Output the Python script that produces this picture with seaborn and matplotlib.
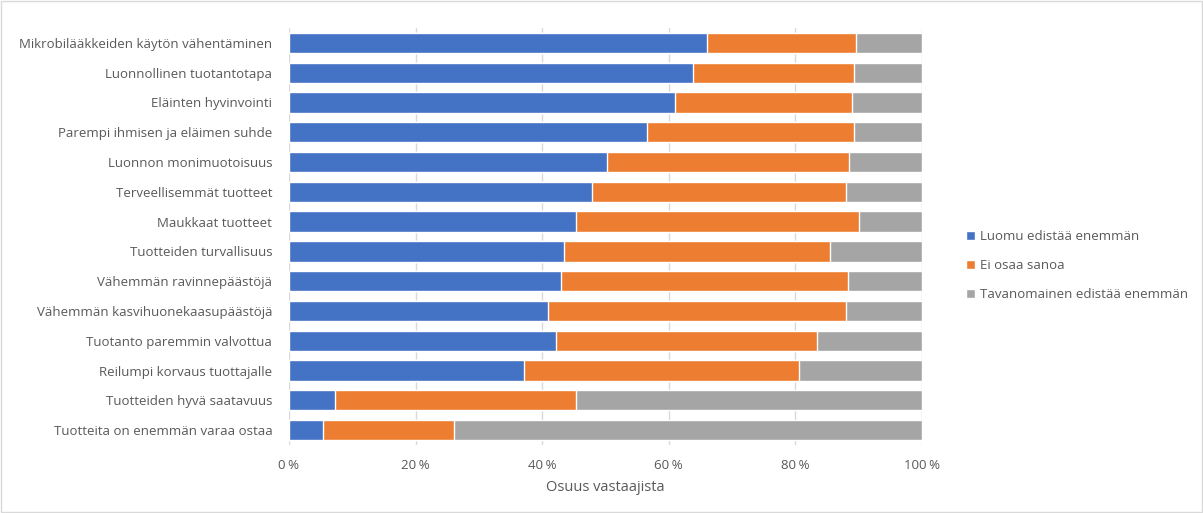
import pandas as pd
import matplotlib
matplotlib.use('Agg')
import matplotlib.pyplot as plt
import seaborn as sns
from matplotlib.patches import Rectangle
from matplotlib.ticker import FuncFormatter

# ---------------------- data ----------------------
categories = [
    'Mikrobilääkkeiden käytön vähentäminen',
    'Luonnollinen tuotantotapa',
    'Eläinten hyvinvointi',
    'Parempi ihmisen ja eläimen suhde',
    'Luonnon monimuotoisuus',
    'Terveellisemmät tuotteet',
    'Maukkaat tuotteet',
    'Tuotteiden turvallisuus',
    'Vähemmän ravinnepäästöjä',
    'Vähemmän kasvihuonekaasupäästöjä',
    'Tuotanto paremmin valvottua',
    'Reilumpi korvaus tuottajalle',
    'Tuotteiden hyvä saatavuus',
    'Tuotteita on enemmän varaa ostaa',
]
luomu = [66.0, 63.9, 61.0, 56.5, 50.2, 47.8, 45.3, 43.5, 43.0, 41.0, 42.2, 37.1, 7.2, 5.4]
ei_osaa = [23.6, 25.4, 28.0, 32.8, 38.3, 40.2, 44.8, 41.9, 45.3, 47.0, 41.2, 43.4, 38.2, 20.6]
tavanomainen = [10.4, 10.7, 11.0, 10.7, 11.5, 12.0, 9.9, 14.6, 11.7, 12.0, 16.6, 19.5, 54.6, 74.0]
series_names = ['Luomu edistää enemmän', 'Ei osaa sanoa', 'Tavanomainen edistää enemmän']
colors = ['#4472C4', '#ED7D31', '#A5A5A5']

df = pd.DataFrame({'kategoria': categories, 'luomu': luomu,
                   'ei_osaa': ei_osaa, 'tavanomainen': tavanomainen})
# kumulatiiviset summat pinottuja palkkeja varten
df['c1'] = df['luomu']
df['c2'] = df['luomu'] + df['ei_osaa']
df['c3'] = df['c2'] + df['tavanomainen']

# ---------------------- plot ----------------------
sns.set_style('white')
plt.rcParams['font.family'] = ['Open Sans', 'DejaVu Sans']
txt = '#595959'

fig = plt.figure(figsize=(12.03, 5.13), dpi=100)
ax = fig.add_axes([0.2402, 0.1326, 0.5262, 0.8128])

for col, c, name in zip(['c3', 'c2', 'c1'], colors[::-1], series_names[::-1]):
    sns.barplot(data=df, x=col, y='kategoria', color=c, width=0.68,
                saturation=1, ax=ax, label=name, zorder=3)

ax.set_xlim(0, 100)
ax.set_ylim(13.5, -0.5)
ax.set_xticks(range(0, 101, 20))
ax.xaxis.set_major_formatter(FuncFormatter(lambda v, p: f'{int(v)}\u202f%'))
ax.grid(axis='x', color='#D9D9D9', lw=1, zorder=0)
for s in ax.spines.values():
    s.set_visible(False)
ax.tick_params(axis='both', length=0, colors=txt, labelsize=9.5)
ax.tick_params(axis='x', pad=10)
ax.tick_params(axis='y', pad=12)
ax.set_ylabel('')
ax.set_xlabel('Osuus vastaajista', color=txt, fontsize=10.5, labelpad=6)

handles, labels = ax.get_legend_handles_labels()
order = [labels.index(n) for n in series_names]
leg = ax.legend([handles[i] for i in order], [labels[i] for i in order],
                loc='center left', bbox_to_anchor=(1.05, 0.43), frameon=False,
                handlelength=0.7, handleheight=0.7, handletextpad=0.4,
                labelspacing=1.2, fontsize=9.5)
for t in leg.get_texts():
    t.set_color(txt)

fig.patches.append(Rectangle((0.001, 0.001), 0.998, 0.997, transform=fig.transFigure,
                             fill=False, edgecolor='#D9D9D9', lw=1))

fig.savefig('out.png', dpi=100)
